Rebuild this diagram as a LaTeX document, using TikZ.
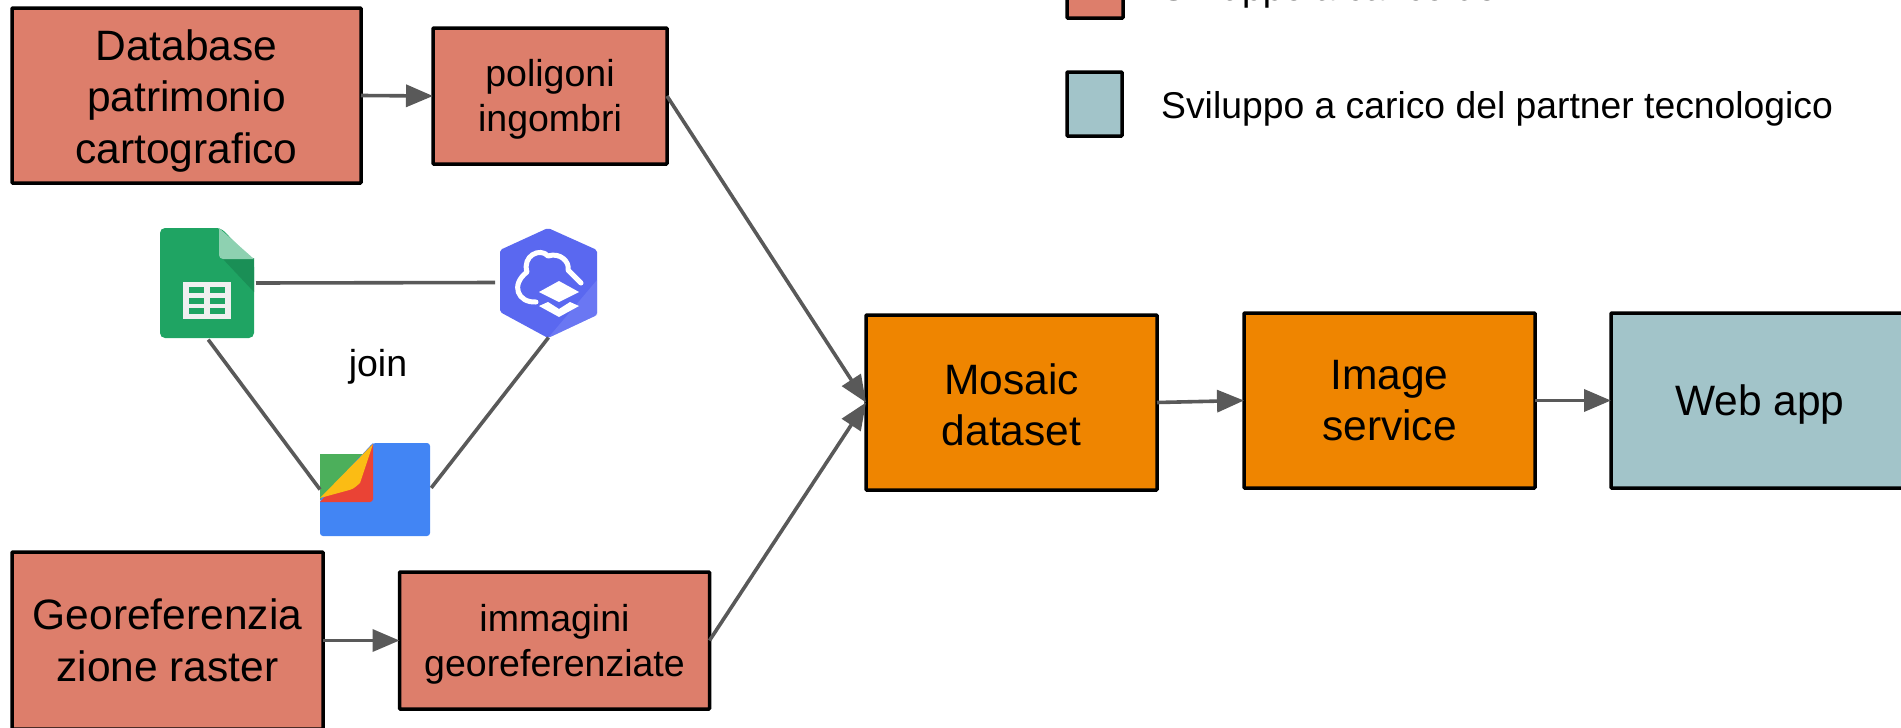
\documentclass[tikz,border=0pt]{standalone}
\usepackage{fontspec}
\setmainfont{Liberation Sans}
\usetikzlibrary{arrows.meta}

\definecolor{salmone}{HTML}{DD7E6B}
\definecolor{ottanio}{HTML}{A2C4C9}
\definecolor{arancio}{HTML}{EF8500}
\definecolor{grigio}{HTML}{595959}
\definecolor{fogliverde}{HTML}{1FA463}
\definecolor{foglichiaro}{HTML}{8ED1B1}
\definecolor{foglioscuro}{HTML}{1A8F56}
\definecolor{esagono}{HTML}{5A68F0}
\definecolor{esagonochiaro}{HTML}{7A86F6}
\definecolor{filesblu}{HTML}{4285F4}
\definecolor{filesverde}{HTML}{4CAF5B}
\definecolor{filesrosso}{HTML}{EA4335}
\definecolor{filesgiallo}{HTML}{FBBC14}

\tikzset{
    blocco/.style={draw=black, line width=3.5pt, rounded corners=0.8pt, align=center, inner sep=0pt, outer sep=0pt, text=black},
    grande/.style={font=\fontsize{42.5}{51.5}\selectfont},
    piccolo/.style={font=\fontsize{37.5}{45}\selectfont},
    freccia/.style={draw=grigio, line width=3.6pt, -{Triangle[length=27pt,width=22pt]}},
    legame/.style={draw=grigio, line width=3.6pt},
    icona/.style={inner sep=0pt, outer sep=0pt}
}

\begin{document}
\begin{tikzpicture}[x=1pt, y=-1pt]
    \useasboundingbox (0,0) rectangle (1901,728);
    \clip (0,0) rectangle (1901,728);

%%%%%%%%%%%%%%%%%%%%%%%%%%%%%%%%%%%%%%%%%%
    \node[blocco, grande, fill=salmone, minimum width=349pt, minimum height=175pt] (database) at (186.5,95.5) {\rule{0pt}{41pt}Database\\patrimonio\\cartografico};
    \node[blocco, piccolo, fill=salmone, minimum width=234pt, minimum height=136pt] (poligoni) at (550,96) {\rule{0pt}{34pt}poligoni\\ingombri};
    \node[blocco, grande, fill=salmone, minimum width=311pt, minimum height=177pt] (georef) at (167.5,640.5) {Georeferenzia\\zione raster};
    \node[blocco, piccolo, fill=salmone, minimum width=310pt, minimum height=137pt] (immagini) at (554.5,640.5) {\rule{0pt}{34pt}immagini\\georeferenziate};
    \node[blocco, grande, fill=arancio, minimum width=291pt, minimum height=175pt] (mosaic) at (1011.5,402.5) {\rule{0pt}{35pt}Mosaic\\dataset};
    \node[blocco, grande, fill=arancio, minimum width=291pt, minimum height=175pt] (image) at (1389.5,400.5) {Image\\service};
    \node[blocco, grande, fill=ottanio, minimum width=298pt, minimum height=175pt] (webapp) at (1760,400.5) {\rule{0pt}{38pt}Web app};

% legenda
    \node[blocco, fill=salmone, minimum width=56pt, minimum height=70pt] (legsviluppo) at (1095,-17) {};
    \node[blocco, fill=ottanio, minimum width=55pt, minimum height=64pt] (legpartner) at (1094.5,104) {};
    \node[anchor=base west, inner sep=0pt, font=\fontsize{37.3}{40}\selectfont] (txtsviluppo) at (1161,1) {Sviluppo a carico del};
    \node[anchor=base west, inner sep=0pt, font=\fontsize{37.3}{40}\selectfont] (txtpartner) at (1161,118) {Sviluppo a carico del partner tecnologico};

% icone
    \node[icona, minimum width=94pt, minimum height=110pt] (fogli) at (207,283) {};
    \fill[fogliverde, rounded corners=5pt] (160,228) -- (221,228) -- (254,262) -- (254,338) -- (160,338) -- cycle;
    \fill[foglioscuro] (222,258) -- (254,258) -- (254,292) -- cycle;
    \fill[foglichiaro] (219,228) -- (254,259) -- (232,259) [rounded corners=4pt] -- (219,259) [sharp corners] -- cycle;
    \fill[white!94!black] (183,282) rectangle (231,319);
    \foreach \xa in {189,210}
        \foreach \ya in {287,297.5,308}
            \fill[fogliverde] (\xa,\ya) rectangle +(15,6);

    \node[icona, minimum width=97pt, minimum height=110pt] (arcgis) at (548.5,282.5) {};
    \fill[esagono, rounded corners=2pt] (548,228) -- (597,250) -- (597,315) -- (548,338) -- (500,312) -- (500,250) -- cycle;
    \fill[esagonochiaro, opacity=0.5] (548,338) -- (597,315) -- (597,280) -- cycle;
    \draw[white, line width=5pt, line cap=round, line join=round] (536,302) .. controls (518,303) and (510,285) .. (527,272) .. controls (522,256) and (540,247) .. (548,256) .. controls (560,252) and (570,262) .. (568,270) -- (581,283);
    \fill[white] (559,281) -- (579,292) -- (559,302) -- (539,292) -- cycle;
    \fill[white] (539,306) -- (548,302) -- (559,309) -- (570,302) -- (579,306) -- (559,317) -- cycle;

    \node[icona, minimum width=110pt, minimum height=93pt] (files) at (375,489.5) {};
    \fill[filesverde] (320,454) rectangle (365,500);
    \fill[filesblu, rounded corners=3pt] (320,536) -- (320,500) -- (373,443) -- (430,443) -- (430,536) -- cycle;
    \fill[filesblu] (320,500) -- (373,443) -- (373,500) -- cycle;
    \fill[filesrosso] (320,502) -- (373,444) [rounded corners=3pt] -- (373,502) [sharp corners] -- cycle;
    \fill[filesgiallo] (320,498) -- (373,444) -- (360,483) [rounded corners=3pt] -- (353,489) [sharp corners] -- cycle;

    \node[font=\fontsize{37.5}{45}\selectfont, inner sep=0pt] (join) at (378,367) {join};

% connettori
    \draw[legame, shorten <=2pt, shorten >=5pt] (fogli.east) -- (arcgis.west);
    \draw[legame, shorten <=2pt] (fogli.south) -- (files.west);
    \draw[legame, shorten <=2pt] (files.east) -- (arcgis.south);

    \draw[freccia] (database.east) -- (poligoni.west);
    \draw[freccia] (georef.east) -- (immagini.west);
    \draw[freccia] (poligoni.east) -- (mosaic.west);
    \draw[freccia] (immagini.east) -- (mosaic.west);
    \draw[freccia] (mosaic.east) -- (image.west);
    \draw[freccia] (image.east) -- (webapp.west);
%%%%%%%%%%%%%%%%%%%%%%%%%%%%%%%%%%%%%%%%%%
\end{tikzpicture}
\end{document}
